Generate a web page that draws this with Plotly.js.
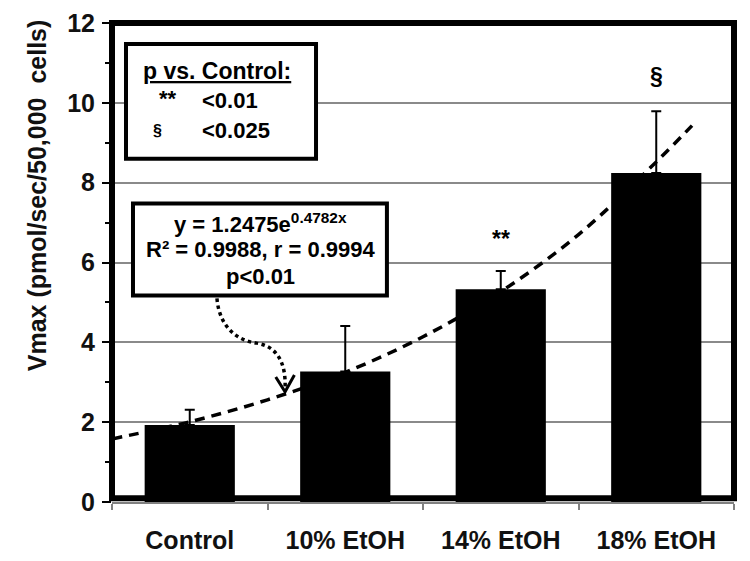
<!DOCTYPE html>
<html>
<head>
<meta charset="utf-8">
<script src="https://cdn.plot.ly/plotly-3.0.1.min.js"></script>
<style>html,body{margin:0;padding:0;background:#fff;}#chart{width:750px;height:561px;}</style>
</head>
<body>
<div id="chart"></div>
<script>
// ---- data ----
const categories = ["Control", "10% EtOH", "14% EtOH", "18% EtOH"];
const vmax       = [1.93, 3.27, 5.33, 8.24];
const vmaxErr    = [0.38, 1.14, 0.46, 1.55];
// dashed exponential trend line (x = category index)
const trendX = [-0.5, 0, 0.5, 1, 1.5, 2, 2.5, 3, 3.23];
const trendY = [1.58, 2.01, 2.56, 3.25, 4.14, 5.27, 6.70, 8.52, 9.43];
// significance marks
const sigX     = [2, 3];
const sigY     = [6.6, 10.68];
const sigLabel = ["**", "§"];
const yTicks   = [0, 2, 4, 6, 8, 10, 12];

const FONT = "Liberation Sans, Arial, sans-serif";

const traces = [
  {
    type: "bar", x: categories, y: vmax,
    width: 0.58,
    marker: {color: "#000000", line: {width: 0}},
    error_y: {type: "data", symmetric: false, array: vmaxErr,
              arrayminus: vmaxErr.map(() => 0),
              color: "#000000", thickness: 2, width: 5},
    hoverinfo: "skip", showlegend: false
  },
  {
    type: "scatter", mode: "lines", x: trendX, y: trendY,
    xaxis: "x2", yaxis: "y",
    line: {color: "#000000", width: 3.5, dash: "10px,7px", shape: "spline"},
    hoverinfo: "skip", showlegend: false
  }
];

const annotations = [];
sigX.forEach((xv, i) => annotations.push({
  xref: "x2", yref: "y", x: xv, y: sigY[i], text: "<b>" + sigLabel[i] + "</b>",
  showarrow: false, font: {family: FONT, size: 23, color: "#000"}
}));
// legend box text
annotations.push(
  {xref: "x2", yref: "y", x: 0.178, y: 10.8, text: "<b><u>p vs. Control:</u></b>",
   showarrow: false, font: {family: FONT, size: 23, color: "#000"}},
  {xref: "x2", yref: "y", x: -0.14, y: 10.12, text: "<b>**</b>",
   showarrow: false, font: {family: FONT, size: 22, color: "#000"}},
  {xref: "x2", yref: "y", x: 0.066, y: 10.05, xanchor: "left", text: "<b>&lt;0.01</b>",
   showarrow: false, font: {family: FONT, size: 22, color: "#000"}},
  {xref: "x2", yref: "y", x: -0.21, y: 9.3, text: "<b>§</b>",
   showarrow: false, font: {family: FONT, size: 16, color: "#000"}},
  {xref: "x2", yref: "y", x: 0.066, y: 9.3, xanchor: "left", text: "<b>&lt;0.025</b>",
   showarrow: false, font: {family: FONT, size: 22, color: "#000"}},
  // equation box text
  {xref: "x2", yref: "y", x: 0.452, y: 6.98, text: "<b>y = 1.2475e<sup>0.4782x</sup></b>",
   showarrow: false, font: {family: FONT, size: 22, color: "#000"}},
  {xref: "x2", yref: "y", x: 0.452, y: 6.33, text: "<b>R² = 0.9988, r = 0.9994</b>",
   showarrow: false, font: {family: FONT, size: 22, color: "#000"}},
  {xref: "x2", yref: "y", x: 0.452, y: 5.66, text: "<b>p&lt;0.01</b>",
   showarrow: false, font: {family: FONT, size: 22, color: "#000"}},
  // y axis title
  {xref: "paper", yref: "paper", x: -0.145, y: 0.64, textangle: -90,
   text: "<b>Vmax (pmol/sec/50,000\u00A0 cells)</b>", showarrow: false,
   font: {family: FONT, size: 25, color: "#111"}}
);

const shapes = [
  // legend box
  {type: "rect", xref: "x2", yref: "y", x0: -0.41, x1: 0.812, y0: 8.6, y1: 11.475,
   line: {color: "#000", width: 4}, fillcolor: "#ffffff", layer: "above"},
  // equation box
  {type: "rect", xref: "x2", yref: "y", x0: -0.365, x1: 1.268, y0: 5.175, y1: 7.475,
   line: {color: "#000", width: 4}, fillcolor: "#ffffff", layer: "above"},
  // dotted curved arrow
  {type: "path", xref: "x2", yref: "y",
   path: "M 0.175,5.1 C 0.19,4.4 0.3,4.05 0.43,3.98 C 0.56,3.9 0.62,3.5 0.613,2.85",
   line: {color: "#000", width: 3.5, dash: "dot"}, layer: "above"},
  {type: "path", xref: "x2", yref: "y",
   path: "M 0.553,3.13 L 0.613,2.76 L 0.673,3.18",
   line: {color: "#000", width: 3}, layer: "above"},
  // thick plot frame
  {type: "rect", xref: "paper", yref: "paper", x0: 0, x1: 1, y0: 0.008, y1: 1,
   line: {color: "#000", width: 6}, fillcolor: "rgba(0,0,0,0)", layer: "above"}
];

const layout = {
  width: 750, height: 561,
  margin: {l: 112, r: 16, t: 23, b: 59},
  paper_bgcolor: "#ffffff", plot_bgcolor: "#ffffff",
  showlegend: false,
  bargap: 0.42,
  xaxis: {
    type: "category", range: [-0.5, 3.5],
    tickson: "boundaries", ticks: "outside", ticklen: 6, tickwidth: 2, tickcolor: "#808080",
    showline: true, linecolor: "#808080", linewidth: 2,
    showgrid: false, zeroline: false,
    ticklabelstandoff: 15,
    tickfont: {family: FONT, size: 25, color: "#111", weight: "bold"},
    fixedrange: true
  },
  xaxis2: {
    type: "linear", overlaying: "x", range: [-0.5, 3.5], visible: false, fixedrange: true
  },
  yaxis: {
    range: [0, 12], tickvals: yTicks, ticktext: yTicks.map(String),
    ticks: "outside", ticklen: 9, tickwidth: 2, tickcolor: "#000",
    minor: {dtick: 1, ticks: "outside", ticklen: 6, tickwidth: 2, tickcolor: "#000", showgrid: false},
    showgrid: true, gridcolor: "#8a8a8a", gridwidth: 2,
    showline: false, zeroline: false,
    tickfont: {family: FONT, size: 25, color: "#111", weight: "bold"},
    ticklabelstandoff: 2,
    fixedrange: true
  },
  annotations: annotations,
  shapes: shapes
};

Plotly.newPlot("chart", traces, layout, {displayModeBar: false, staticPlot: true});
</script>
</body>
</html>
